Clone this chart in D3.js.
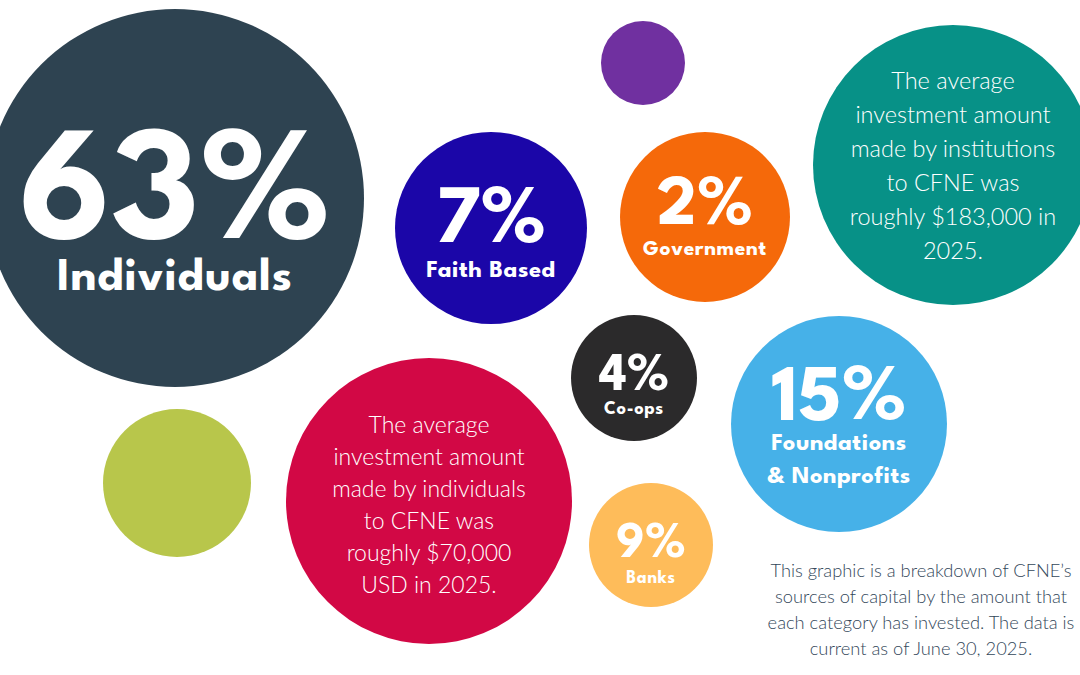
<!DOCTYPE html>
<html>
<head>
<meta charset="utf-8">
<script src="https://cdn.jsdelivr.net/npm/d3@7"></script>
<style>
  html, body { margin: 0; padding: 0; background: #fff; }
  svg { display: block; }
</style>
</head>
<body>
<div id="chart"></div>
<script>
// Data: share of CFNE capital by source
const categories = ["Individuals", "Faith Based", "Government", "Co-ops", "Foundations\n& Nonprofits", "Banks"];
const shares     = [63, 7, 2, 4, 15, 9];
const colors     = ["#2e4351", "#1b06a8", "#f5690a", "#2b2a2b", "#46b1e8", "#febc5a"];

// Text bubbles
const notes = [
  "The average\ninvestment amount\nmade by institutions\nto CFNE was\nroughly $183,000 in\n2025.",
  "The average\ninvestment amount\nmade by individuals\nto CFNE was\nroughly $70,000\nUSD in 2025."
];
const noteColors = ["#079187", "#d20845"];
const footnote = "This graphic is a breakdown of CFNE\u2019s\nsources of capital by the amount that\neach category has invested. The data is\ncurrent as of June 30, 2025.";

// Layout (bubble centre, radius, font sizes) - design only
const width = 1080, height = 675;
const shareLayout = [
  { cx: 175, cy: 198, r: 189, num: 164, lab: 47,   ls: 0.02, numY: 238, labY: 290 },
  { cx: 491, cy: 228, r: 96,  num: 82,  lab: 24.5, ls: 0.02, numY: 242, labY: 277 },
  { cx: 705, cy: 217, r: 85,  num: 70,  lab: 21.5, ls: 0.03, numY: 224, labY: 255 },
  { cx: 634, cy: 378, r: 63,  num: 53,  lab: 18.5, ls: 0.03, numY: 390, labY: 414 },
  { cx: 839, cy: 424, r: 108, num: 81,  lab: 24.5, ls: 0.02, numY: 420, labY: 450 },
  { cx: 651, cy: 545, r: 62,  num: 51,  lab: 17.5, ls: 0.04, numY: 557, labY: 583 }
];
const noteLayout = [
  { cx: 953, cy: 165, r: 140, size: 23.5, lead: 34, y0: 89 },
  { cx: 429, cy: 501, r: 143, size: 23,   lead: 32, y0: 433 }
];
const blanks = [
  { cx: 643, cy: 63,  r: 42, color: "#7030a0" },
  { cx: 177, cy: 483, r: 74, color: "#b8c64b" }
];

const boldFont = "'League Spartan', Futura, 'Lato', 'Noto Sans', sans-serif";
const lightFont = "'Lato', 'Noto Sans', sans-serif";

const svg = d3.select("#chart")
  .append("svg")
  .attr("width", width)
  .attr("height", height);

// plain decorative circles
svg.selectAll(".blank")
  .data(blanks)
  .enter()
  .append("circle")
  .attr("class", "blank")
  .attr("cx", d => d.cx)
  .attr("cy", d => d.cy)
  .attr("r", d => d.r)
  .attr("fill", d => d.color);

// share bubbles
const shareData = categories.map((c, i) => ({ cat: c, share: shares[i], color: colors[i], ...shareLayout[i] }));

const bubbles = svg.selectAll(".share")
  .data(shareData)
  .enter()
  .append("g")
  .attr("class", "share");

bubbles.append("circle")
  .attr("cx", d => d.cx)
  .attr("cy", d => d.cy)
  .attr("r", d => d.r)
  .attr("fill", d => d.color);

bubbles.append("text")
  .attr("x", d => d.cx)
  .attr("y", d => d.numY)
  .attr("text-anchor", "middle")
  .attr("fill", "#fff")
  .style("font-family", boldFont)
  .style("font-weight", 700)
  .style("font-size", d => d.num + "px")
  .text(d => d.share + "%");

bubbles.each(function(d) {
  const lines = d.cat.split("\n");
  const t = d3.select(this).append("text")
    .attr("text-anchor", "middle")
    .attr("fill", "#fff")
    .style("font-family", boldFont)
    .style("font-weight", 700)
    .style("letter-spacing", d.ls + "em")
    .style("font-size", d.lab + "px");
  lines.forEach((ln, j) => {
    t.append("tspan")
      .attr("x", d.cx)
      .attr("y", d.labY + j * 33)
      .text(ln);
  });
});

// text bubbles
const noteData = notes.map((n, i) => ({ text: n, color: noteColors[i], ...noteLayout[i] }));

const noteG = svg.selectAll(".note")
  .data(noteData)
  .enter()
  .append("g")
  .attr("class", "note");

noteG.append("circle")
  .attr("cx", d => d.cx)
  .attr("cy", d => d.cy)
  .attr("r", d => d.r)
  .attr("fill", d => d.color);

noteG.each(function(d) {
  const t = d3.select(this).append("text")
    .attr("text-anchor", "middle")
    .attr("fill", "#fff")
    .style("font-family", lightFont)
    .style("font-weight", 300)
    .style("font-size", d.size + "px");
  d.text.split("\n").forEach((ln, j) => {
    t.append("tspan")
      .attr("x", d.cx)
      .attr("y", d.y0 + j * d.lead)
      .text(ln);
  });
});

// footnote (kept just inside the right edge)
const foot = svg.append("text")
  .attr("text-anchor", "middle")
  .attr("fill", "#33475a")
  .style("font-family", lightFont)
  .style("font-weight", 300)
  .style("font-size", "18.3px");

footnote.split("\n").forEach((ln, j) => {
  foot.append("tspan")
    .attr("x", 921)
    .attr("y", 577 + j * 26)
    .text(ln);
});
</script>
</body>
</html>
